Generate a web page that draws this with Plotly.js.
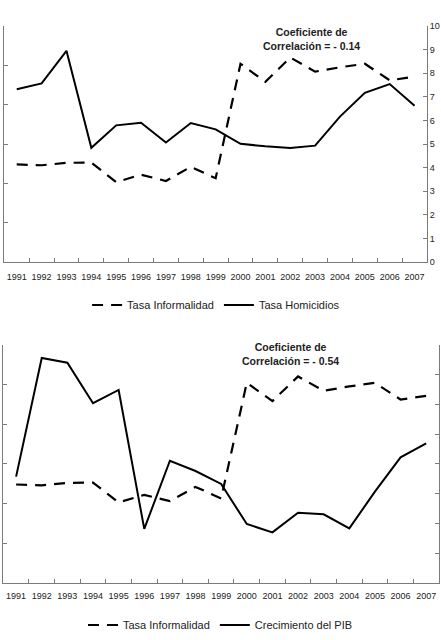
<!DOCTYPE html>
<html>
<head>
<meta charset="utf-8">
<script src="https://cdn.plot.ly/plotly-3.0.1.min.js"></script>
<style>html,body{margin:0;padding:0;background:#fff;}#chart{width:441px;height:640px;}</style>
</head>
<body>
<div id="chart"></div>
<script>
// ---- data ----
var years = ["1991","1992","1993","1994","1995","1996","1997","1998","1999","2000","2001","2002","2003","2004","2005","2006","2007"];
var tasaInformalidad = [24.8, 24.6, 25.2, 25.3, 20.3, 22.2, 20.6, 24.2, 21.3, 50.4, 45.8, 52.0, 48.4, 49.5, 50.4, 46.2, 47.1];
var tasaHomicidios = [7.32, 7.57, 8.95, 4.84, 5.79, 5.90, 5.06, 5.89, 5.62, 5.01, 4.90, 4.83, 4.93, 6.16, 7.17, 7.54, 6.62];
var crecimientoPIB = [1.14, 9.11, 8.79, 6.07, 6.96, -2.37, 2.21, 1.52, 0.65, -2.04, -2.60, -1.28, -1.39, -2.33, 0.13, 2.44, 3.38];
var corrTop = "Coeficiente de<br>Correlación = - 0.14";
var corrBottom = "Coeficiente de<br>Correlación = - 0.54";

var axisGray = '#7a7a7a';
var font = {family: 'Liberation Sans, Arial, sans-serif', size: 9, color: '#222'};

var dashStyle = {color: '#000', width: 2.2, dash: '11px,8px'};
var solidStyle = {color: '#000', width: 2};

var traces = [
  {x: years, y: tasaInformalidad, name: 'Tasa Informalidad', type: 'scatter', mode: 'lines',
   line: dashStyle, xaxis: 'x', yaxis: 'y', legend: 'legend'},
  {x: years, y: tasaHomicidios, name: 'Tasa Homicidios', type: 'scatter', mode: 'lines',
   line: solidStyle, xaxis: 'x', yaxis: 'y2', legend: 'legend'},
  {x: years, y: tasaInformalidad, name: 'Tasa Informalidad', type: 'scatter', mode: 'lines',
   line: dashStyle, xaxis: 'x2', yaxis: 'y3', legend: 'legend2'},
  {x: years, y: crecimientoPIB, name: 'Crecimiento del PIB', type: 'scatter', mode: 'lines',
   line: solidStyle, xaxis: 'x2', yaxis: 'y4', legend: 'legend2'}
];

function xax(domain, anchor, standoff) {
  return {domain: domain, anchor: anchor, type: 'category', range: [-0.5, years.length - 0.5],
    showgrid: false, zeroline: false, tickangle: 0, ticklabelstandoff: standoff,
    showline: true, linecolor: axisGray, linewidth: 1, ticks: 'inside', tickson: 'boundaries',
    ticklen: 4, tickcolor: axisGray, tickfont: font, fixedrange: true};
}
function yax(domain, anchor, range, dtick, side, labels, overlay) {
  var a = {domain: domain, anchor: anchor, range: range, dtick: dtick, tick0: range[0], side: side,
    showgrid: false, zeroline: false, showline: true, linecolor: axisGray, linewidth: 1,
    ticks: 'inside', ticklen: 4, tickcolor: axisGray, showticklabels: labels, tickfont: font, fixedrange: true};
  if (overlay) a.overlaying = overlay;
  return a;
}

var topY = [378/640, 614/640];
var botY = [57/640, 295.3/640];
var topX = [4.3/441, 427/441];
var botX = [3.3/441, 439/441];

var layout = {
  width: 441, height: 640,
  margin: {l: 0, r: 0, t: 0, b: 0},
  paper_bgcolor: '#fff', plot_bgcolor: 'rgba(0,0,0,0)',
  font: font,
  xaxis: xax(topX, 'y', 6),
  yaxis: yax(topY, 'x', [0, 60], 10, 'left', false),
  yaxis2: yax(topY, 'x', [0, 10], 1, 'right', true, 'y'),
  xaxis2: xax(botX, 'y3', 4),
  yaxis3: yax(botY, 'x2', [0, 60], 10, 'left', false),
  yaxis4: yax(botY, 'x2', [-6, 10], 2, 'right', false, 'y3'),
  legend: {orientation: 'h', x: 0.49, xanchor: 'center', y: (640-305)/640, yanchor: 'middle',
    font: {family: 'Liberation Sans, Arial, sans-serif', size: 11, color: '#222'},
    bgcolor: 'rgba(0,0,0,0)', itemgap: 2, tracegroupgap: 0},
  legend2: {orientation: 'h', x: 0.5, xanchor: 'center', y: 15/640, yanchor: 'middle',
    font: {family: 'Liberation Sans, Arial, sans-serif', size: 11, color: '#222'},
    bgcolor: 'rgba(0,0,0,0)', itemgap: 2, tracegroupgap: 0},
  annotations: [
    {text: corrTop, xref: 'paper', yref: 'paper', x: 311/441, y: (640-39)/640, xanchor: 'center', yanchor: 'middle',
     showarrow: false, align: 'center', font: {family: 'Liberation Sans, Arial, sans-serif', size: 10.5, color: '#222', weight: 'bold'}},
    {text: corrBottom, xref: 'paper', yref: 'paper', x: 290/441, y: (640-354)/640, xanchor: 'center', yanchor: 'middle',
     showarrow: false, align: 'center', font: {family: 'Liberation Sans, Arial, sans-serif', size: 10.5, color: '#222', weight: 'bold'}}
  ],
  showlegend: true
};

Plotly.newPlot('chart', traces, layout, {displayModeBar: false, staticPlot: true});
</script>
</body>
</html>
